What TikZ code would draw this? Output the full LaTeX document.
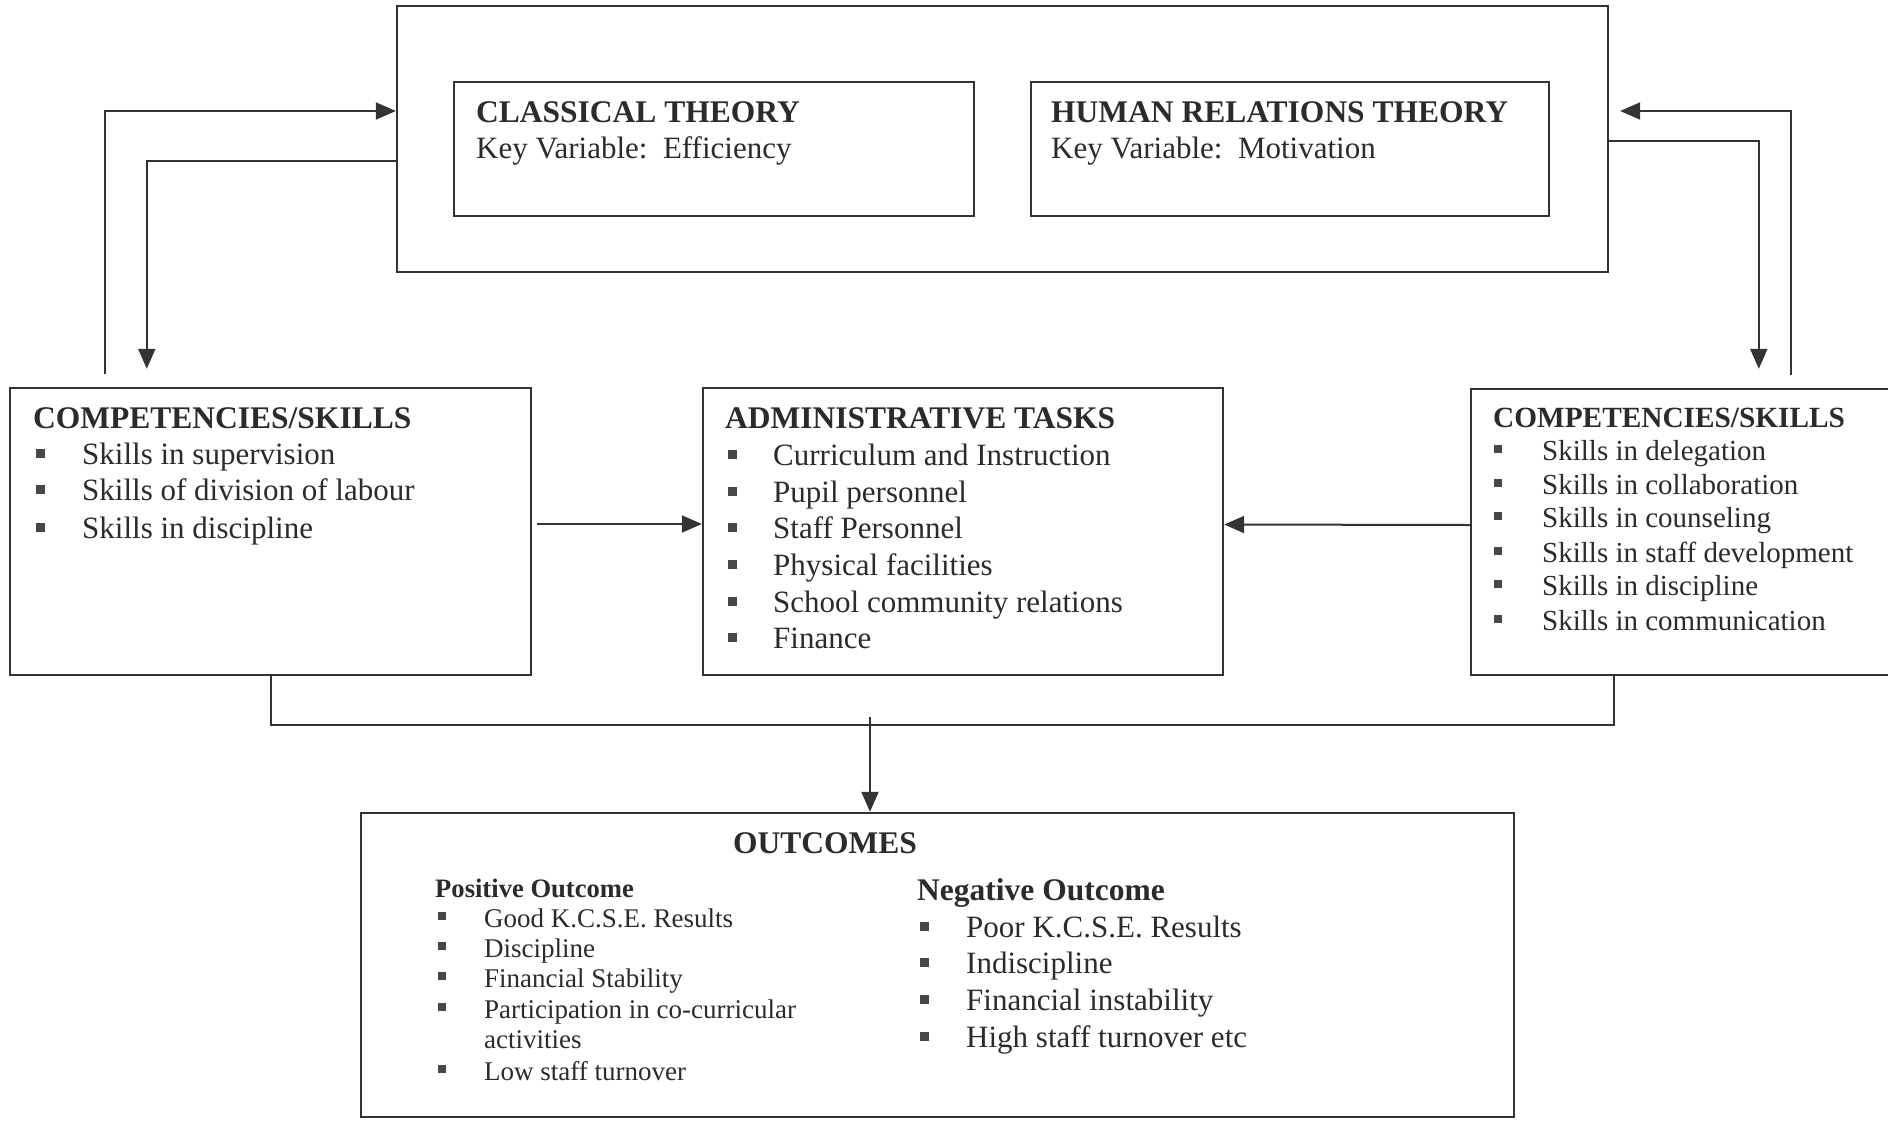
\documentclass[tikz,border=0pt]{standalone}
\usepackage{fontspec}
\setmainfont{Liberation Serif}
\usetikzlibrary{arrows.meta}
\definecolor{ink}{HTML}{2B2B2B}
\definecolor{linec}{HTML}{333333}
\tikzset{
  box/.style={draw=linec, line width=2.4pt, rectangle, inner sep=0pt},
  ln/.style={draw=linec, line width=2pt},
  arr/.style={ln, -{Triangle[length=20pt,width=17pt]}},
  txt/.style={anchor=base west, inner sep=0pt, text=ink, font=\fontsize{31}{37}\selectfont},
  hd/.style={txt, font=\fontsize{31.5}{37}\selectfont\bfseries},
  txts/.style={txt, font=\fontsize{29}{34}\selectfont},
  hds/.style={txt, font=\fontsize{29.3}{34}\selectfont\bfseries},
  txtp/.style={txt, font=\fontsize{27}{31}\selectfont},
  hdp/.style={txt, font=\fontsize{26.6}{31}\selectfont\bfseries},
  bul/.style={fill=black!72}
}
% #1 name, #2 style, #3 bullet x, #4 text x, #5 baseline y, #6 bullet half size, #7 text
\newcommand{\bitem}[7]{%
  \fill[bul] (#3-#6,#5-11-#6) rectangle (#3+#6,#5-11+#6);
  \node[#2] (#1) at (#4,#5) {#7};}
\begin{document}
\begin{tikzpicture}[x=1pt,y=-1pt]
\useasboundingbox (0,0) rectangle (1888,1120);
\fill[white] (0,0) rectangle (1888,1120);

% boxes
\node[box, minimum width=1211pt, minimum height=266pt] (top) at (1002.5,139) {};
\node[box, minimum width=520pt, minimum height=134pt] (cl) at (714,149) {};
\node[box, minimum width=518pt, minimum height=134pt] (hr) at (1290,149) {};
\node[box, minimum width=521pt, minimum height=287pt] (lc) at (270.5,531.5) {};
\node[box, minimum width=520pt, minimum height=287pt] (at) at (963,531.5) {};
\node[box, minimum width=429pt, minimum height=286pt] (rc) at (1685.5,532) {};
\node[box, minimum width=1153pt, minimum height=304pt] (oc) at (937.5,965) {};

% top texts
\node[hd] (clt) at (476,122) {CLASSICAL THEORY};
\node[txt] (clk) at (476,158) {Key Variable:\ \ Efficiency};
\node[hd] (hrt) at (1051,122) {HUMAN RELATIONS THEORY};
\node[txt] (hrk) at (1051,158) {Key Variable:\ \ Motivation};

% left competencies
\node[hd] (lch) at (33,428) {COMPETENCIES/SKILLS};
\bitem{lc1}{txt}{40}{82}{464}{4.5}{Skills in supervision}
\bitem{lc2}{txt}{40}{82}{500}{4.5}{Skills of division of labour}
\bitem{lc3}{txt}{40}{82}{538}{4.5}{Skills in discipline}

% administrative tasks
\node[hd] (ath) at (725,428) {ADMINISTRATIVE TASKS};
\bitem{at1}{txt}{732}{773}{465}{4.5}{Curriculum and Instruction}
\bitem{at2}{txt}{732}{773}{502}{4.5}{Pupil personnel}
\bitem{at3}{txt}{732}{773}{538}{4.5}{Staff Personnel}
\bitem{at4}{txt}{732}{773}{575}{4.5}{Physical facilities}
\bitem{at5}{txt}{732}{773}{612}{4.5}{School community relations}
\bitem{at6}{txt}{732}{773}{648}{4.5}{Finance}

% right competencies
\node[hds] (rch) at (1493,427) {COMPETENCIES/SKILLS};
\bitem{rc1}{txts}{1498}{1542}{460}{4}{Skills in delegation}
\bitem{rc2}{txts}{1498}{1542}{494}{4}{Skills in collaboration}
\bitem{rc3}{txts}{1498}{1542}{527}{4}{Skills in counseling}
\bitem{rc4}{txts}{1498}{1542}{562}{4}{Skills in staff development}
\bitem{rc5}{txts}{1498}{1542}{595}{4}{Skills in discipline}
\bitem{rc6}{txts}{1498}{1542}{630}{4}{Skills in communication}

% outcomes
\node[hd] (oct) at (733,853) {OUTCOMES};
\node[hdp] (poh) at (435,897) {Positive Outcome};
\bitem{po1}{txtp}{442}{484}{927}{3.8}{Good K.C.S.E. Results}
\bitem{po2}{txtp}{442}{484}{957}{3.8}{Discipline}
\bitem{po3}{txtp}{442}{484}{987}{3.8}{Financial Stability}
\bitem{po4}{txtp}{442}{484}{1018}{3.8}{Participation in co-curricular}
\node[txtp] (po4b) at (484,1048) {activities};
\bitem{po5}{txtp}{442}{484}{1080}{3.8}{Low staff turnover}
\node[hd] (noh) at (917,900) {Negative Outcome};
\bitem{no1}{txt}{924}{966}{937}{4.5}{Poor K.C.S.E. Results}
\bitem{no2}{txt}{924}{966}{973}{4.5}{Indiscipline}
\bitem{no3}{txt}{924}{966}{1010}{4.5}{Financial instability}
\bitem{no4}{txt}{924}{966}{1047}{4.5}{High staff turnover etc}

% connectors between the top box and the competencies boxes
\draw[arr] ([xshift=96pt,yshift=13pt]lc.north west) |- ([yshift=28pt]top.west);
\draw[arr] ([yshift=-22pt]top.west) -| ([xshift=138pt,yshift=18pt]lc.north west);
\draw[arr] ([xshift=321pt,yshift=13pt]rc.north west) |- ([xshift=11pt,yshift=28pt]top.east);
\draw[arr] ([yshift=-2pt]top.east) -| ([xshift=289pt,yshift=19pt]rc.north west);

% competencies to administrative tasks
\draw[arr] ([xshift=5pt,yshift=7.5pt]lc.east) -- ([yshift=7.5pt]at.west);
\draw[arr] ([yshift=7pt]rc.west) -- ([yshift=7pt]at.east);

% trunk to outcomes
\coordinate (j) at (870,725);
\draw[ln] ([xshift=262pt]lc.south west) |- (j) -| ([xshift=144pt]rc.south west);
\draw[arr] ([yshift=8pt]j) -- (oc.north -| j);
\end{tikzpicture}
\end{document}
